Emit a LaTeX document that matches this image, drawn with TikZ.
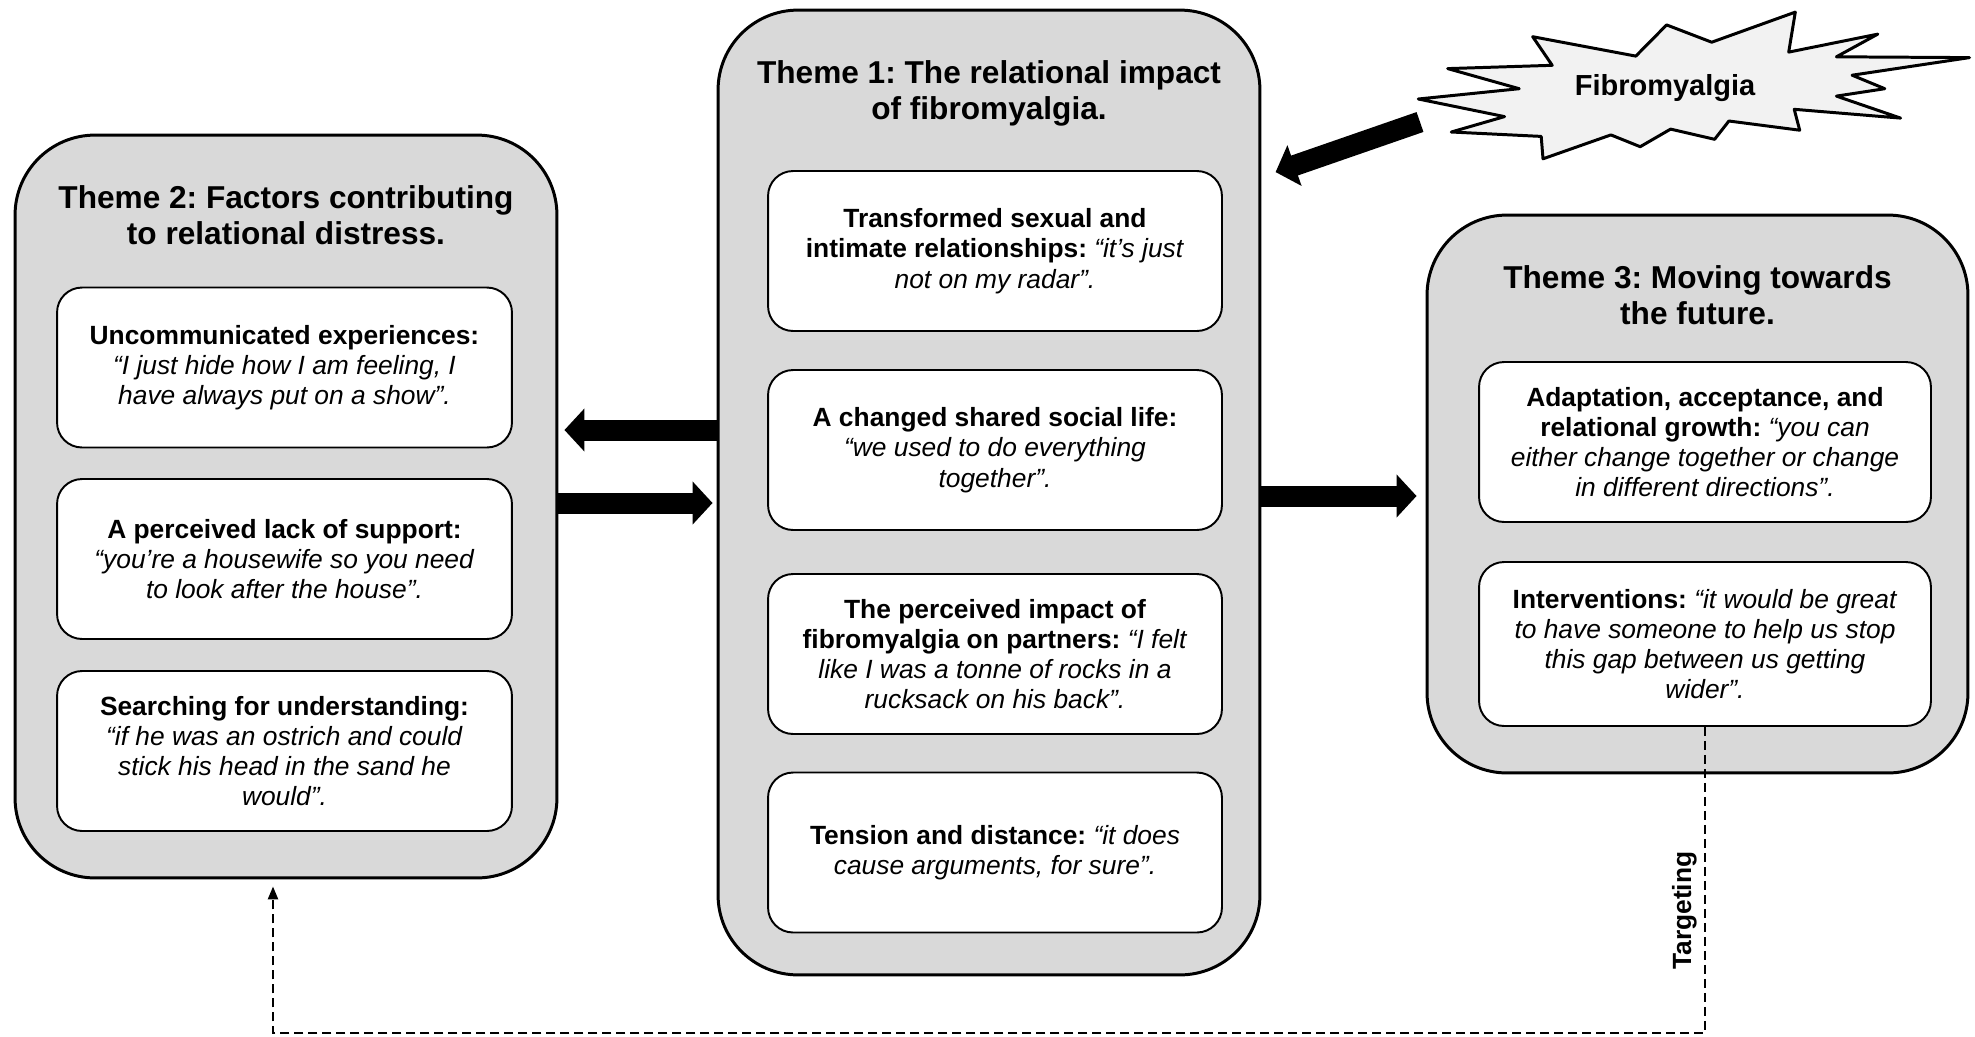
\documentclass[tikz,border=0pt]{standalone}
\usepackage{fontspec}
\setmainfont{Liberation Sans}
\usepackage{tikz}
\usetikzlibrary{arrows.meta}
\usetikzlibrary{calc,positioning}

\definecolor{themegray}{HTML}{D9D9D9}
\definecolor{burstgray}{HTML}{F2F2F2}

\newcommand{\titlefont}{\fontsize{18}{20.5}\selectfont\bfseries}
\newcommand{\subfont}{\fontsize{15}{17.2}\selectfont}
\frenchspacing

\tikzset{
  themebox/.style={draw, fill=themegray, line width=1.7pt, rounded corners=1.6cm, inner sep=0pt, minimum width=10.84cm},
  subbox/.style={draw, fill=white, line width=1.1pt, rounded corners=0.5cm, align=center, font=\subfont, minimum height=3.2cm},
  themetitle/.style={align=center, font=\titlefont},
  bigarrow/.style={line width=0.42cm, -{Triangle[length=0.4cm,width=0.84cm]}},
  target/.style={line width=1.4pt, dash pattern=on 0.18cm off 0.1cm, -{Triangle[length=0.26cm,width=0.2cm]}}
}

\begin{document}
\begin{tikzpicture}[x=0.02cm,y=-0.02cm]
\useasboundingbox (0,0) rectangle (1975,1036);

			\begin{scope}[every node/.style={themebox}]
				\node[minimum height=14.86cm] (t2) at (286,506.5) {};
				\node[minimum height=19.3cm] (t1) at (989,492.5) {};
				\node[minimum width=10.82cm,minimum height=11.16cm] (t3) at (1697.5,494) {};
			\end{scope}

			\begin{scope}[every node/.style={themetitle}]
				\node (t2title) at (286,215) {Theme 2: Factors contributing\\to relational distress.};
				\node (t1title) at (989,93) {Theme 1: The relational impact\\of fibromyalgia.};
				\node (t3title) at (1697.5,295) {Theme 3: Moving towards\\the future.};
			\end{scope}

			\begin{scope}[every node/.style={subbox,minimum width=9.1cm}]
				\node (unc) at (284.5,367.5) {\textbf{Uncommunicated experiences:}\\\textit{“I just hide how I am feeling, I}\\\textit{have always put on a show”.}};
				\node (lack) at (284.5,559) {\textbf{A perceived lack of support:}\\\textit{“you’re a housewife so you need}\\\textit{to look after the house”.}};
				\node (search) at (284.5,751) {\textbf{Searching for understanding:}\\\textit{“if he was an ostrich and could}\\\textit{stick his head in the sand he}\\\textit{would”.}};
			\end{scope}

			\begin{scope}[every node/.style={subbox,minimum width=9.08cm}]
				\node (sex) at (995,251) {\textbf{Transformed sexual and}\\\textbf{intimate relationships:} \textit{“it’s just}\\\textit{not on my radar”.}};
				\node (social) at (995,450) {\textbf{A changed shared social life:}\\\textit{“we used to do everything}\\\textit{together”.}};
				\node (partner) at (995,654) {\textbf{The perceived impact of}\\\textbf{fibromyalgia on partners:} \textit{“I felt}\\\textit{like I was a tonne of rocks in a}\\\textit{rucksack on his back”.}};
				\node (tension) at (995,852.5) {\textbf{Tension and distance:} \textit{“it does}\\\textit{cause arguments, for sure”.}};
			\end{scope}

			\begin{scope}[every node/.style={subbox,minimum width=9.04cm}]
				\node (adapt) at (1705,442) {\textbf{Adaptation, acceptance, and}\\\textbf{relational growth:} \textit{“you can}\\\textit{either change together or change}\\\textit{in different directions”.}};
				\node[minimum height=3.28cm] (ivn) at (1705,644) {\textbf{Interventions:} \textit{“it would be great}\\\textit{to have someone to help us stop}\\\textit{this gap between us getting}\\\textit{wider”.}};
			\end{scope}

			\draw[line width=1.7pt, fill=burstgray, line join=round]
				(1418.3,99.0) -- (1519.2,88.7) -- (1447.7,68.6) -- (1552.2,65.3) -- (1532.7,36.7)
				-- (1635.8,56.1) -- (1666.6,24.9) -- (1711.7,42.2) -- (1795.3,12.1) -- (1788.7,52.1)
				-- (1877.8,34.1) -- (1836.4,56.8) -- (1969.5,57.6) -- (1852.1,75.2) -- (1884.8,88.7)
				-- (1836.4,96.1) -- (1900.6,118.1) -- (1794.2,109.3) -- (1799.7,130.2) -- (1728.9,121.0)
				-- (1714.6,139.3) -- (1670.6,129.1) -- (1640.2,146.7) -- (1610.9,134.9) -- (1543.0,158.8)
				-- (1541.2,136.4) -- (1451.3,132.0) -- (1504.5,116.6) -- cycle;
			\node[font=\fontsize{16.5}{19}\selectfont\bfseries] (fibro) at (1665,88) {Fibromyalgia};
			\coordinate (burstL) at (1420,122);

			\begin{scope}[every edge/.style={draw}]
				\path[bigarrow, shorten >=0.12cm] (t1.west |- 0,430) edge (t2.east |- 0,430);
				\path[bigarrow, shorten >=0.08cm] (t2.east |- 0,503) edge (t1.west |- 0,503);
				\path[bigarrow, shorten >=0.18cm] (t1.east |- 0,496) edge (t3.west |- 0,496);
				\path[bigarrow, shorten >=0.3cm] (burstL) edge (t1.east |- 0,177);
			\end{scope}

			\draw[target] (ivn.south) -- node[pos=0.6, rotate=90, anchor=south, inner sep=4pt, font=\subfont\bfseries] (tgt) {Targeting}
				(ivn.south |- 0,1033) -| ([xshift=-0.26cm,yshift=-0.14cm]t2.south);
\end{tikzpicture}
\end{document}
